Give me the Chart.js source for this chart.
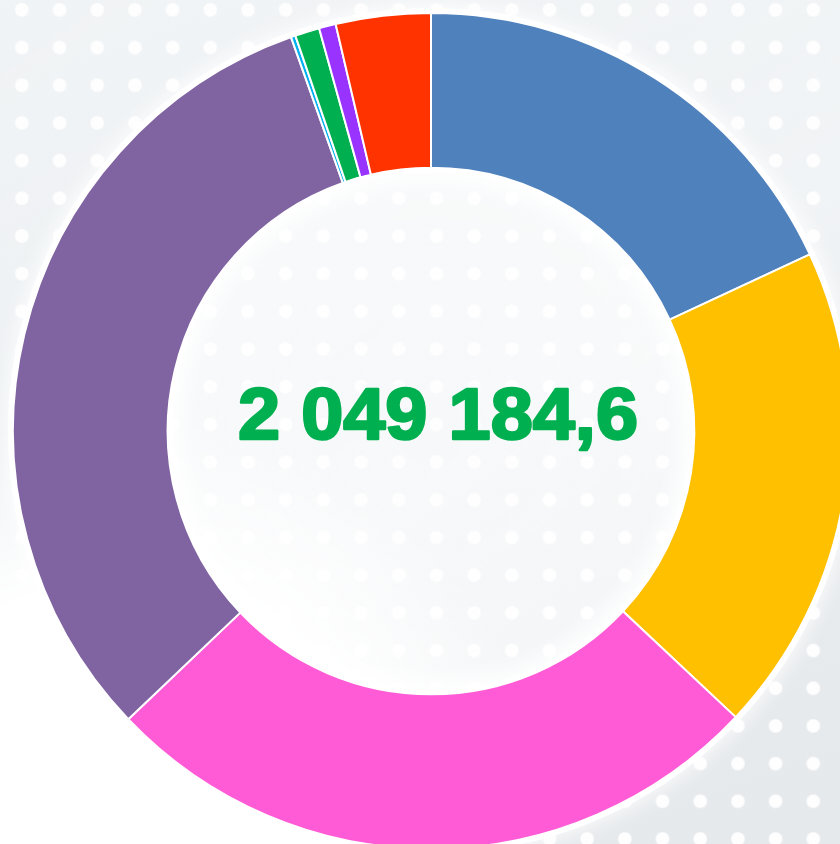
<!DOCTYPE html>
<html>
<head>
<meta charset="utf-8">
<script src="https://cdn.jsdelivr.net/npm/chart.js@4"></script>
<style>
  html, body { margin: 0; padding: 0; width: 840px; height: 844px; overflow: hidden; }
  body {
    background:
      radial-gradient(circle at 120px 844px, #ffffff 0px, #ffffff 260px, rgba(255,255,255,0) 430px),
      linear-gradient(144deg, rgba(255,255,255,0) 0%, rgba(255,255,255,0.35) 55%, rgba(255,255,255,0) 72%),
      radial-gradient(circle, rgba(255,255,255,0.95) 0px, rgba(255,255,255,0.95) 6px, rgba(255,255,255,0) 7.5px),
      linear-gradient(160deg, #f1f4f6 0%, #eaeef1 40%, #e6e9ec 100%);
    background-size: 100% 100%, 100% 100%, 37.7px 37.7px, 100% 100%;
    background-position: 0 0, 0 0, 3px -9px, 0 0;
  }
  #wrap { position: absolute; left: 0; top: 0; width: 862px; height: 862px; }
</style>
</head>
<body>
<div id="wrap"><canvas id="donut"></canvas></div>
<script>
// slices clockwise from 12 o'clock
const categories = ['Bleu', 'Jaune', 'Rose', 'Violet', 'Cyan', 'Vert', 'Pourpre', 'Rouge'];
const values = [370000, 388200, 530500, 649100, 3600, 19400, 13300, 75084.6];
const colors = ['#4f81bd', '#ffc000', '#ff5bd6', '#8064a2', '#00b0f0', '#00b050', '#9933ff', '#ff3300'];
const totalLabel = '2 049 184,6';

const glow = {
  id: 'glow',
  beforeDatasetsDraw(chart) {
    const arc = chart.getDatasetMeta(0).data[0];
    if (!arc) return;
    const ctx = chart.ctx;
    ctx.save();
    ctx.fillStyle = '#ffffff';
    ctx.shadowColor = 'rgba(255,255,255,1)';
    ctx.shadowBlur = 22;
    ctx.beginPath();
    ctx.arc(arc.x, arc.y, arc.outerRadius + 5, 0, Math.PI * 2);
    ctx.fill();
    ctx.shadowBlur = 0;
    // hole: let the dotted background show through, lightened
    ctx.globalCompositeOperation = 'destination-out';
    ctx.beginPath();
    ctx.arc(arc.x, arc.y, arc.innerRadius - 4, 0, Math.PI * 2);
    ctx.fill();
    ctx.globalCompositeOperation = 'source-over';
    const g = ctx.createRadialGradient(arc.x, arc.y, 0, arc.x, arc.y, arc.innerRadius);
    g.addColorStop(0, 'rgba(255,255,255,0.45)');
    g.addColorStop(0.9, 'rgba(255,255,255,0.55)');
    g.addColorStop(1, 'rgba(255,255,255,0.95)');
    ctx.fillStyle = g;
    ctx.beginPath();
    ctx.arc(arc.x, arc.y, arc.innerRadius, 0, Math.PI * 2);
    ctx.fill();
    ctx.restore();
  }
};

const centerText = {
  id: 'centerText',
  afterDraw(chart) {
    const arc = chart.getDatasetMeta(0).data[0];
    const ctx = chart.ctx;
    ctx.save();
    ctx.font = 'bold 72px "Liberation Sans", Arial, sans-serif';
    ctx.fillStyle = '#00b050';
    ctx.strokeStyle = '#00b050';
    ctx.lineWidth = 2.5;
    ctx.lineJoin = 'round';
    ctx.textAlign = 'center';
    ctx.textBaseline = 'alphabetic';
    const w = ctx.measureText(totalLabel).width;
    ctx.translate(arc.x + 7, arc.y + 8);
    ctx.scale(400 / w, 1);
    ctx.fillText(totalLabel, 0, 0);
    ctx.strokeText(totalLabel, 0, 0);
    ctx.restore();
  }
};

new Chart(document.getElementById('donut'), {
  type: 'doughnut',
  data: {
    labels: categories,
    datasets: [{
      data: values,
      backgroundColor: colors,
      borderColor: '#ffffff',
      borderWidth: 2
    }]
  },
  options: {
    responsive: true,
    maintainAspectRatio: false,
    animation: false,
    radius: 418,
    cutout: '63%',
    layout: { padding: 0 },
    plugins: {
      legend: { display: false },
      tooltip: { enabled: false }
    }
  },
  plugins: [glow, centerText]
});
</script>
</body>
</html>
